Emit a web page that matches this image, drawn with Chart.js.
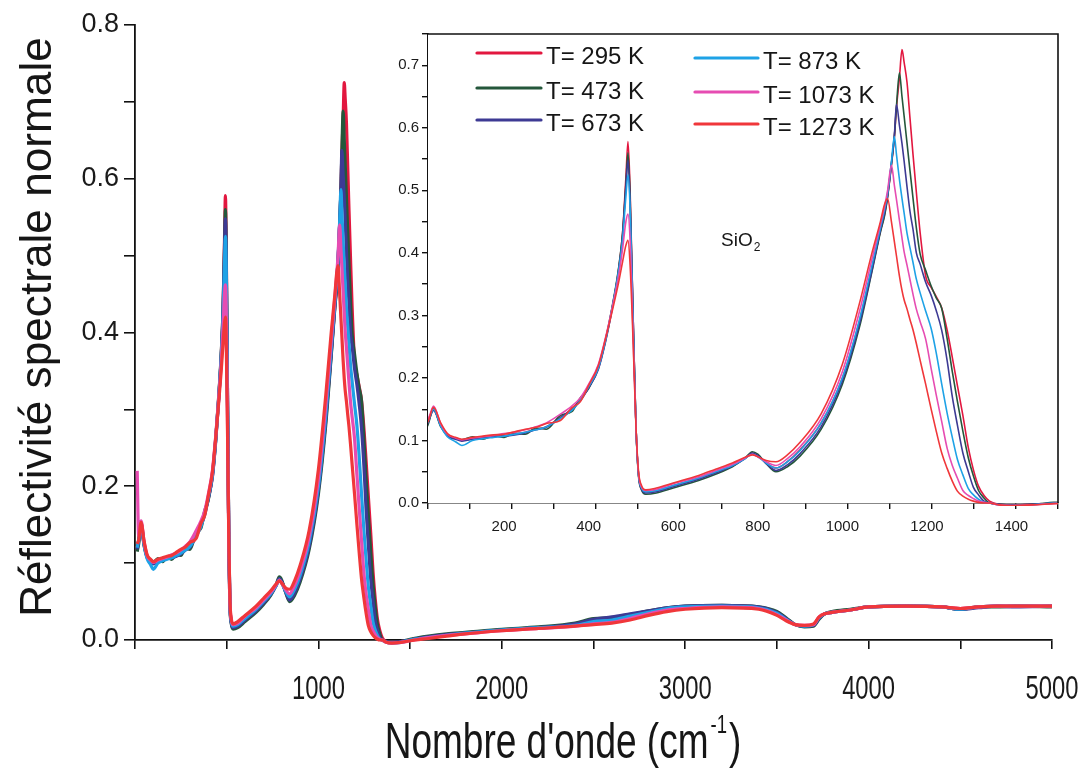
<!DOCTYPE html>
<html><head><meta charset="utf-8">
<script src="https://cdn.jsdelivr.net/npm/chart.js@4.4.0/dist/chart.umd.min.js"></script>
<style>
html,body{margin:0;padding:0;background:#fff;}
#wrap{position:relative;width:1090px;height:774px;overflow:hidden;}
#wrap canvas{position:absolute;left:0;top:0;}
</style></head><body>
<div id="wrap"><canvas id="main" width="1090" height="774"></canvas><canvas id="inset" width="1090" height="774"></canvas></div>
<script>
// ---- data ----
const wavenumber = [12,20,33,50,66,85,100,125,150,175,200,225,250,275,300,333,360,380,400,423,440,455,470,480,488,493,498,505,512,518,525,535,560,600,660,700,740,770,787,800,820,843,870,900,950,1000,1040,1070,1090,1100,1107,1116,1123,1128,1135,1141,1146,1153,1160,1167,1175,1184,1197,1210,1222,1235,1248,1260,1272,1285,1298,1310,1322,1335,1348,1370,1400,1450,1500,1600,1700,1800,2000,2200,2400,2500,2600,2700,2800,2900,3000,3200,3400,3500,3550,3600,3650,3700,3730,3760,3800,3900,4000,4200,4400,4500,4600,4700,4800,5000];

const refl295 = [.12,.13,.152,.125,.109,.103,.1,.103,.104,.106,.108,.11,.113,.118,.122,.137,.15,.165,.185,.215,.26,.31,.37,.43,.52,.578,.5,.3,.12,.045,.024,.018,.02,.028,.04,.05,.06,.072,.08,.076,.064,.056,.066,.085,.128,.2,.29,.375,.435,.462,.49,.54,.585,.632,.68,.725,.705,.672,.615,.558,.497,.432,.363,.345,.33,.312,.276,.233,.188,.14,.088,.053,.027,.012,.003,
 -.002,-.003,-.002,0,.004,.007,.009,.013,.016,.019,.022,.024,.029,.035,.04,.042,.043,.041,.034,.027,.02,.018,.019,.029,.034,.036,.039,.043,.044,.043,.04,.043,.044,.044,.044];
const refl473 = [.115,.125,.15,.122,.108,.104,.101,.106,.102,.108,.105,.112,.11,.12,.118,.14,.146,.168,.183,.218,.262,.312,.372,.43,.51,.56,.49,.3,.12,.042,.021,.014,.016,.024,.036,.046,.058,.072,.082,.078,.063,.05,.058,.075,.118,.19,.28,.37,.433,.46,.49,.542,.586,.635,.688,.65,.619,.575,.531,.488,.44,.398,.372,.347,.328,.311,.262,.21,.163,.115,.072,.043,.02,.008,0,
 -.002,-.003,-.002,.001,.005,.008,.01,.014,.017,.022,.028,.029,.033,.038,.042,.044,.045,.043,.037,.029,.02,.017,.018,.027,.034,.037,.04,.043,.044,.043,.04,.043,.043,.044,.043];
const refl673 = [.118,.128,.148,.124,.107,.102,.099,.102,.105,.106,.107,.109,.112,.117,.121,.136,.15,.163,.184,.214,.258,.308,.368,.425,.505,.548,.48,.3,.12,.044,.022,.016,.018,.026,.038,.048,.059,.071,.08,.076,.063,.052,.061,.079,.122,.195,.285,.372,.436,.465,.492,.543,.588,.637,.604,.575,.547,.505,.466,.438,.4,.382,.353,.332,.308,.276,.227,.17,.125,.08,.05,.025,.013,.003,0,
 -.002,-.003,-.002,0,.004,.007,.009,.013,.016,.021,.027,.03,.034,.038,.042,.044,.045,.043,.036,.028,.02,.018,.019,.028,.034,.036,.039,.043,.044,.043,.04,.042,.044,.043,.044];
const refl873 = [.12,.13,.15,.123,.106,.098,.092,.1,.103,.105,.107,.11,.113,.117,.122,.135,.148,.164,.186,.216,.26,.31,.368,.42,.49,.525,.47,.29,.12,.045,.024,.018,.02,.028,.04,.05,.06,.071,.078,.074,.064,.056,.066,.084,.128,.2,.292,.38,.44,.47,.495,.545,.586,.557,.517,.487,.464,.431,.408,.385,.358,.336,.307,.279,.24,.19,.143,.105,.07,.045,.023,.013,.006,.001,0,
 -.003,-.004,-.003,0,.003,.006,.009,.013,.016,.019,.024,.026,.031,.036,.041,.043,.044,.042,.035,.027,.02,.018,.02,.029,.034,.036,.039,.043,.044,.043,.04,.043,.044,.044,.044];
const refl1073 = [.22,.135,.155,.127,.11,.104,.101,.104,.106,.108,.111,.113,.117,.122,.128,.142,.155,.168,.19,.222,.265,.31,.36,.405,.45,.462,.42,.27,.12,.047,.026,.02,.022,.031,.042,.052,.062,.072,.078,.074,.066,.06,.071,.09,.135,.21,.305,.39,.446,.475,.5,.54,.508,.485,.452,.424,.402,.38,.357,.334,.31,.29,.262,.215,.173,.13,.087,.06,.04,.02,.012,.007,.003,.001,0,
 -.003,-.004,-.003,-.001,.003,.006,.008,.012,.015,.018,.021,.023,.028,.034,.039,.041,.043,.041,.033,.026,.02,.019,.02,.03,.034,.036,.039,.043,.044,.043,.041,.043,.044,.044,.044];
const refl1273 = [.125,.13,.153,.128,.111,.105,.102,.105,.107,.109,.11,.114,.118,.121,.127,.132,.152,.162,.188,.22,.263,.305,.35,.385,.412,.42,.38,.26,.12,.05,.028,.021,.024,.032,.044,.054,.064,.073,.077,.074,.068,.066,.077,.097,.143,.222,.318,.4,.45,.478,.487,.45,.418,.395,.363,.34,.325,.31,.293,.277,.255,.228,.19,.15,.115,.08,.055,.035,.019,.011,.006,.003,.001,0,0,
 -.003,-.004,-.003,-.001,.002,.005,.008,.012,.015,.018,.02,.022,.026,.032,.037,.04,.042,.04,.032,.025,.02,.019,.021,.03,.034,.036,.039,.043,.044,.043,.041,.043,.044,.044,.044];

const seriesLabels = ['T= 295 K','T= 473 K','T= 673 K','T= 873 K','T= 1073 K','T= 1273 K'];
const seriesColors = ['#e2173f','#24573b','#3d3a94','#1ea2e6','#e64cb2','#f0373a'];
const seriesValues = [refl295, refl473, refl673, refl873, refl1073, refl1273];

const mainXLabels = [1000,2000,3000,4000,5000];
const mainYLabels = [0.0,0.2,0.4,0.6,0.8];
const insetXLabels = [200,400,600,800,1000,1200,1400];
const insetYLabels = [0.0,0.1,0.2,0.3,0.4,0.5,0.6,0.7];

seriesValues.forEach((a,i)=>{ if(a.length!==wavenumber.length) throw new Error('length mismatch series '+i+': '+a.length+' vs '+wavenumber.length); });

const SANS = "'Liberation Sans',Arial,sans-serif";

function makeDatasets(width, clipBottom){
  return seriesValues.map((vals,i)=>({
    label: seriesLabels[i],
    data: wavenumber.map((x,j)=>({x:x,y:vals[j]})),
    borderColor: seriesColors[i],
    backgroundColor: seriesColors[i],
    borderWidth: width,
    pointRadius: 0,
    fill: false,
    cubicInterpolationMode: 'monotone',
    clip: {left:0, top:0, right:0, bottom:clipBottom},
    order: seriesValues.length-1-i
  }));
}
function near(list,v){ return list.some(t=>Math.abs(t-v)<1e-6); }

// draws horizontally condensed text (like the narrow face of the original figure)
function narrowText(ctx, text, x, y, size, squeeze, align){
  ctx.save();
  ctx.font = size+'px '+SANS;
  const w = ctx.measureText(text).width*squeeze;
  let left = x;
  if(align==='center') left = x - w/2;
  ctx.translate(left, y);
  ctx.scale(squeeze,1);
  ctx.textAlign='left';
  ctx.fillText(text,0,0);
  ctx.restore();
  return w;
}

const mainTitles = {
  id:'mainTitles',
  afterDraw(chart){
    const ctx = chart.ctx;
    const xs = chart.scales.x;
    // x tick labels (condensed)
    ctx.save();
    ctx.fillStyle='#1a1a1a'; ctx.textBaseline='alphabetic';
    mainXLabels.forEach(v=>{
      narrowText(ctx, String(v), xs.getPixelForValue(v), chart.chartArea.bottom+59, 34, 0.7, 'center');
    });
    ctx.restore();
    // y title
    ctx.save();
    ctx.fillStyle = '#161616';
    const yt = 'Réflectivité spectrale normale';
    ctx.font = '44px '+SANS;
    let w = ctx.measureText(yt).width;
    const ys = 44*580/w;
    ctx.font = ys.toFixed(1)+'px '+SANS;
    ctx.translate(35+ys*0.36, 327);
    ctx.rotate(-Math.PI/2);
    ctx.textAlign='center'; ctx.textBaseline='alphabetic';
    ctx.fillText(yt,0,0);
    ctx.restore();
    // x title with superscript (condensed)
    ctx.save();
    ctx.fillStyle = '#161616'; ctx.textBaseline='alphabetic';
    const p1='Nombre d\'onde (cm', sup='-1', p3=')';
    const S=50, sq=0.74;
    ctx.font = S+'px '+SANS;
    const w1=ctx.measureText(p1).width*sq, w3=ctx.measureText(p3).width*sq;
    ctx.font = (S*0.5)+'px '+SANS;
    const w2=ctx.measureText(sup).width*sq;
    const total=w1+w2+w3+4;
    let x = 563-total/2; const base=758;
    narrowText(ctx,p1,x,base,S,sq,'left'); x+=w1+2;
    narrowText(ctx,sup,x,base-S*0.5,S*0.5,sq,'left'); x+=w2+2;
    narrowText(ctx,p3,x,base,S,sq,'left');
    ctx.restore();
  }
};

new Chart(document.getElementById('main'), {
  type:'line',
  data:{datasets: makeDatasets(3.2, 6)},
  options:{
    responsive:false, animation:false, devicePixelRatio:1,
    layout:{autoPadding:false, padding:{left:0,top:25,right:38,bottom:0}},
    plugins:{legend:{display:false}, tooltip:{enabled:false}},
    scales:{
      x:{type:'linear', min:0, max:5000,
        afterFit(s){ s.height=134; s.paddingLeft=0; s.paddingRight=0; },
        border:{display:true,color:'#111',width:1.8},
        grid:{display:true,drawOnChartArea:false,drawTicks:true,tickLength:9,color:'#111',lineWidth:1.6},
        ticks:{stepSize:500, autoSkip:false, maxRotation:0, padding:20, color:'rgba(0,0,0,0)',
          font:{family:SANS,size:24},
          callback:()=> ''}
      },
      y:{type:'linear', min:0, max:0.8,
        afterFit(s){ s.width=135; },
        border:{display:true,color:'#111',width:1.8},
        grid:{display:true,drawOnChartArea:false,drawTicks:true,tickLength:11,color:'#111',lineWidth:1.6},
        ticks:{stepSize:0.1, autoSkip:false, padding:5, color:'#1a1a1a',
          font:{family:SANS,size:27},
          callback:(v)=> near(mainYLabels,v) ? v.toFixed(1) : ''}
      }
    }
  },
  plugins:[mainTitles]
});

const insetDecor = {
  id:'insetDecor',
  beforeDatasetsDraw(chart){
    const {ctx, chartArea:a} = chart;
    ctx.save(); ctx.fillStyle='#fff'; ctx.fillRect(a.left,a.top,a.right-a.left,a.bottom-a.top); ctx.restore();
  },
  afterDraw(chart){
    const {ctx, chartArea:a} = chart;
    const xs = chart.scales.x;
    ctx.save();
    ctx.strokeStyle='#111'; ctx.lineWidth=1.6;
    ctx.beginPath(); ctx.moveTo(a.left,a.top); ctx.lineTo(a.right,a.top); ctx.lineTo(a.right,a.bottom); ctx.stroke();
    // x tick labels of the inset
    ctx.fillStyle='#1a1a1a'; ctx.font='15px '+SANS; ctx.textAlign='center'; ctx.textBaseline='top';
    insetXLabels.forEach(v=>{ ctx.fillText(String(v), xs.getPixelForValue(v), a.bottom+16); });
    // legend
    const cols=[{x0:477,x1:541,tx:546,ys:[56,91,123]},{x0:695,x1:758,tx:763,ys:[61,95,127]}];
    ctx.font='24px '+SANS; ctx.textBaseline='middle'; ctx.textAlign='left';
    seriesLabels.forEach((lab,i)=>{
      const c=cols[Math.floor(i/3)], y=c.ys[i%3];
      ctx.strokeStyle=seriesColors[i]; ctx.lineWidth=3.2; ctx.lineCap='round';
      ctx.beginPath(); ctx.moveTo(c.x0,y-3); ctx.lineTo(c.x1,y-3); ctx.stroke();
      ctx.fillStyle='#161616'; ctx.fillText(lab,c.tx,y+1);
    });
    // SiO2 label
    ctx.textBaseline='alphabetic';
    ctx.font='19px '+SANS; ctx.fillStyle='#161616';
    ctx.fillText('SiO',721,246);
    const wS=ctx.measureText('SiO').width;
    ctx.font='12px '+SANS; ctx.fillText('2',721+wS+1,251);
    ctx.restore();
  }
};

new Chart(document.getElementById('inset'), {
  type:'line',
  data:{datasets: makeDatasets(1.6, 3)},
  options:{
    responsive:false, animation:false, devicePixelRatio:1,
    layout:{autoPadding:false, padding:{left:388,top:34,right:32,bottom:241}},
    plugins:{legend:{display:false}, tooltip:{enabled:false}},
    scales:{
      x:{type:'linear', min:20, max:1510,
        afterFit(s){ s.height=30; s.paddingLeft=0; s.paddingRight=0; },
        border:{display:true,color:'#111',width:1.6},
        grid:{display:true,drawOnChartArea:false,drawTicks:true,tickLength:6,color:'#111',lineWidth:1.4},
        ticks:{stepSize:100, includeBounds:false, autoSkip:false, maxRotation:0, padding:5, color:'rgba(0,0,0,0)',
          font:{family:SANS,size:15},
          callback:()=> ''}
      },
      y:{type:'linear', min:0, max:0.75,
        afterFit(s){ s.width=40; },
        border:{display:true,color:'#111',width:1.6},
        grid:{display:true,drawOnChartArea:false,drawTicks:true,tickLength:6,color:'#111',lineWidth:1.4},
        ticks:{stepSize:0.05, includeBounds:false, autoSkip:false, padding:3, color:'#1a1a1a',
          font:{family:SANS,size:15},
          callback:(v)=> near(insetYLabels,v) ? v.toFixed(1) : ''}
      }
    }
  },
  plugins:[insetDecor]
});
</script>
</body></html>
